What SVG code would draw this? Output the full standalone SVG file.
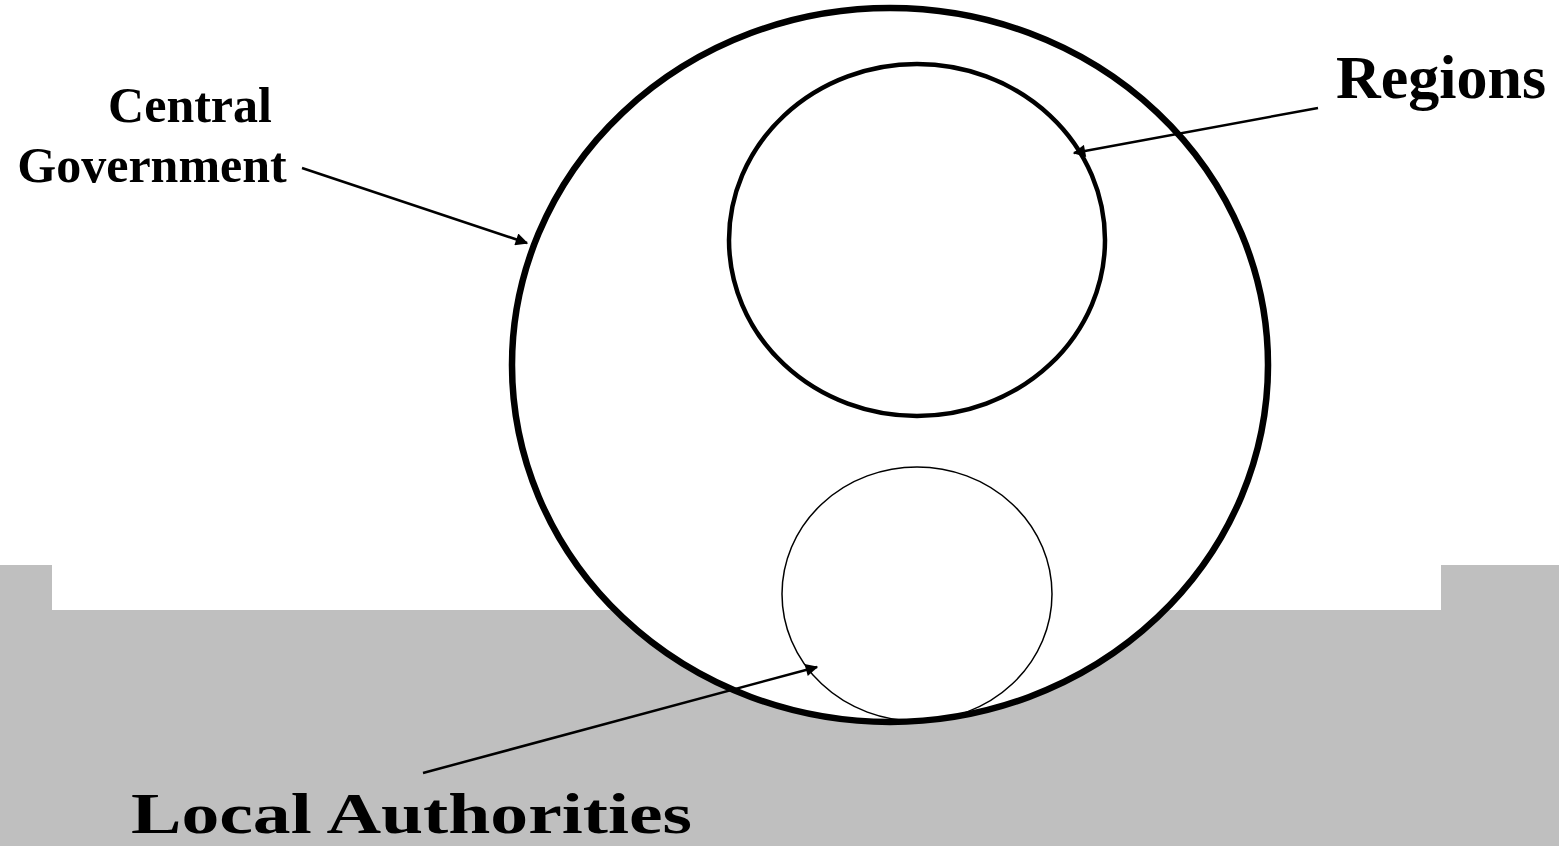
<svg xmlns="http://www.w3.org/2000/svg" width="1559" height="846" viewBox="0 0 1559 846">
<style>
.lbl{font-family:"Liberation Serif","Times New Roman",serif;font-weight:bold;fill:#000}
.conn{stroke:#000;stroke-width:2.5;fill:none;marker-end:url(#ah)}
</style>
<defs>
<marker id="ah" viewBox="0 0 10 10" refX="9" refY="5" markerWidth="6.5" markerHeight="5" markerUnits="strokeWidth" orient="auto">
<path d="M0,0 L10,5 L0,10 z" fill="#000"/>
</marker>
</defs>
<rect width="1559" height="846" fill="#fff"/>
<polygon points="0,565 52,565 52,610 1441,610 1441,565 1559,565 1559,846 0,846" fill="#bfbfbf"/>
<g id="central">
<ellipse cx="890" cy="365" rx="378" ry="357" fill="#fff" stroke="#000" stroke-width="6.5"/>
</g>
<g id="regions">
<ellipse cx="917" cy="240" rx="188" ry="176" fill="#fff" stroke="#000" stroke-width="4.5"/>
</g>
<g id="local">
<ellipse cx="917" cy="594" rx="135" ry="127" fill="none" stroke="#000" stroke-width="1.5"/>
</g>
<g id="labels">
<text class="lbl" x="190" y="122" font-size="50" text-anchor="middle">Central</text>
<text class="lbl" x="152" y="182" font-size="50" text-anchor="middle">Government</text>
<text class="lbl" x="1441" y="98" font-size="62" text-anchor="middle">Regions</text>
<text class="lbl" x="131" y="833" font-size="56" textLength="561" lengthAdjust="spacingAndGlyphs">Local Authorities</text>
</g>
<g id="connectors">
<line class="conn" x1="302" y1="168" x2="527" y2="243"/>
<line class="conn" x1="1318" y1="108" x2="1074" y2="153"/>
<line class="conn" x1="423" y1="773" x2="817" y2="667"/>
</g>
</svg>
